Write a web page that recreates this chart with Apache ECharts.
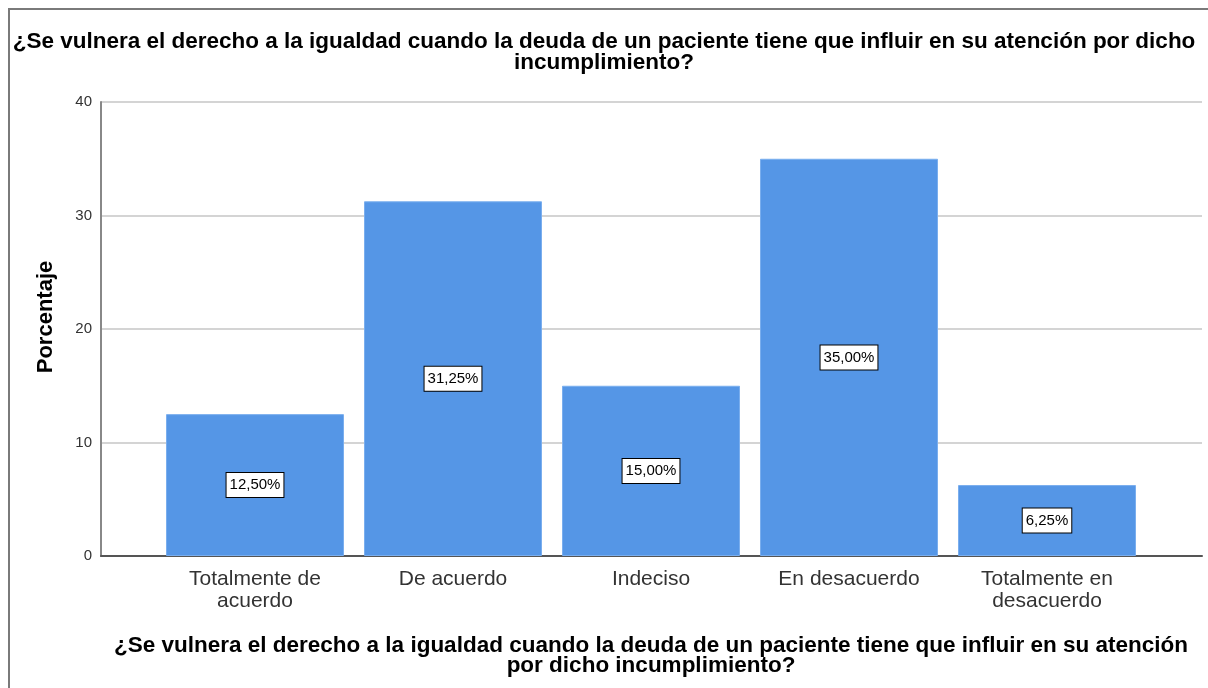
<!DOCTYPE html>
<html>
<head>
<meta charset="utf-8">
<script src="https://cdn.jsdelivr.net/npm/echarts@6/dist/echarts.min.js"></script>
<style>
  html, body { margin: 0; padding: 0; background: #fff; }
  #chart { width: 1208px; height: 688px; position: relative; }
  #frame { position: absolute; left: 8px; top: 8px; right: -10px; bottom: -10px;
           border-left: 2px solid #7a7a7a; border-top: 2px solid #7a7a7a; pointer-events: none; }
</style>
</head>
<body>
<div id="chart"></div>
<div id="frame"></div>
<script>
// datos de la pregunta
var pregunta = '¿Se vulnera el derecho a la igualdad cuando la deuda de un paciente tiene que influir en su atención por dicho\nincumplimiento?';
var nombreEjeX = '¿Se vulnera el derecho a la igualdad cuando la deuda de un paciente tiene que influir en su atención\npor dicho incumplimiento?';
var categorias = ['Totalmente de\nacuerdo', 'De acuerdo', 'Indeciso', 'En desacuerdo', 'Totalmente en\ndesacuerdo'];
var porcentajes = [12.5, 31.25, 15, 35, 6.25];
var ejeY = { min: 0, max: 40, interval: 10 };

var font = '"Liberation Sans", Arial, sans-serif';

var myChart = echarts.init(document.getElementById('chart'));

var option = {
    animation: false,
    title: {
        text: pregunta,
        left: 'center',
        top: 26,
        textStyle: { fontFamily: font, fontSize: 22.5, fontWeight: 'bold', color: '#000', lineHeight: 21 }
    },
    grid: [
        // fondo: eje y y lineas de cuadricula a todo lo ancho
        { left: 101, right: 6, top: 102, bottom: 132 },
        // barras
        { left: 156, right: 62, top: 102, bottom: 132 }
    ],
    xAxis: [
        {
            gridIndex: 0, type: 'value', min: 0, max: 1,
            axisLine: { show: true, lineStyle: { color: '#555', width: 2 } },
            axisTick: { show: false }, axisLabel: { show: false }, splitLine: { show: false }
        },
        {
            gridIndex: 1, type: 'category', data: categorias,
            axisLine: { show: false }, axisTick: { show: false },
            axisLabel: { fontFamily: font, fontSize: 21, color: '#333', lineHeight: 22, margin: 12, interval: 0 },
            name: nombreEjeX, nameLocation: 'middle', nameGap: 80,
            nameTextStyle: { fontFamily: font, fontSize: 22.5, fontWeight: 'bold', color: '#000', lineHeight: 20, verticalAlign: 'top' }
        }
    ],
    yAxis: [
        {
            gridIndex: 0, type: 'value', min: ejeY.min, max: ejeY.max, interval: ejeY.interval,
            axisLine: { show: true, lineStyle: { color: '#888', width: 2 } },
            axisTick: { show: false },
            axisLabel: { fontFamily: font, fontSize: 15, color: '#333', margin: 9 },
            splitLine: { lineStyle: { color: '#d4d4d4', width: 2 } },
            name: 'Porcentaje', nameLocation: 'middle', nameGap: 44, nameRotate: 90,
            nameTextStyle: { fontFamily: font, fontSize: 22, fontWeight: 'bold', color: '#000', padding: [0, 0, 0, 24] }
        },
        {
            gridIndex: 1, type: 'value', min: ejeY.min, max: ejeY.max, interval: ejeY.interval,
            show: false, splitLine: { show: false }
        }
    ],
    series: [{
        type: 'bar',
        xAxisIndex: 1,
        yAxisIndex: 1,
        data: porcentajes,
        barWidth: 178,
        itemStyle: { color: '#5596e6', borderColor: '#7aaeee', borderWidth: 1 },
        label: {
            show: true,
            position: 'inside',
            formatter: function (p) { return p.value.toFixed(2).replace('.', ',') + '%'; },
            fontFamily: font, fontSize: 15, color: '#000',
            backgroundColor: '#fff', borderColor: '#000', borderWidth: 1,
            padding: [5, 3, 4, 3]
        }
    }]
};

myChart.setOption(option);
</script>
</body>
</html>
